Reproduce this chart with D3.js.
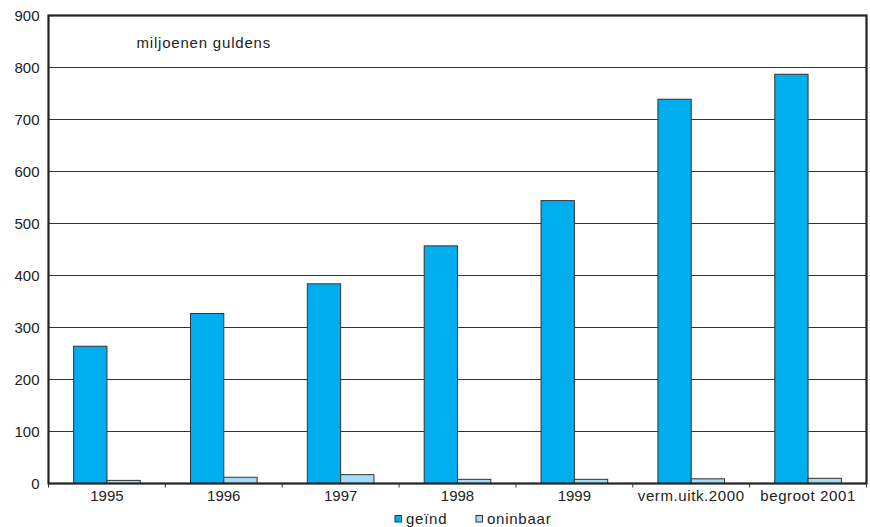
<!DOCTYPE html>
<html lang="nl">
<head>
<meta charset="UTF-8">
<title>geïnd en oninbaar</title>
<script src="https://d3js.org/d3.v7.min.js"></script>
<style>
  body { margin: 0; background: #fff; }
  text { font-family: "Liberation Sans", Arial, sans-serif; fill: #222; }
</style>
</head>
<body>
<div id="chart"></div>
<script>
// data (miljoenen guldens)
var categories = ["1995", "1996", "1997", "1998", "1999", "verm.uitk.2000", "begroot 2001"];
var geind = [264, 327, 384, 457, 544, 739, 787];
var oninbaar = [6, 12, 17, 8, 8, 9, 10];
var seriesNames = ["geïnd", "oninbaar"];
var seriesColors = ["#00adef", "#a3dcf6"];
var yTicks = [0, 100, 200, 300, 400, 500, 600, 700, 800, 900];

var W = 870, H = 527;
var margin = { top: 15.5, right: 3.5, bottom: 43.5, left: 48.5 },
    width = W - margin.left - margin.right,
    height = H - margin.top - margin.bottom;

// words are set a bit wider than the digits in the original
function spacing(d) { return /[a-z]/.test(d) ? "0.6px" : "0px"; }

var svg = d3.select("#chart").append("svg")
    .attr("width", W).attr("height", H);
var g = svg.append("g")
    .attr("transform", "translate(" + margin.left + "," + margin.top + ")");

var x = d3.scaleBand()
    .domain(categories)
    .range([0, width])
    .paddingInner(0.43)
    .paddingOuter(0.215);
var y = d3.scaleLinear().domain([0, 900]).range([height, 0]);

// gridlines
g.selectAll(".grid").data(yTicks).enter().append("line")
    .attr("x1", 0).attr("x2", width)
    .attr("y1", function (d) { return y(d); })
    .attr("y2", function (d) { return y(d); })
    .attr("stroke", "#333").attr("stroke-width", 1.2);

// y labels
g.selectAll(".ylab").data(yTicks).enter().append("text")
    .attr("x", -9).attr("y", function (d) { return y(d); })
    .attr("dy", "0.35em")
    .attr("text-anchor", "end")
    .style("font-size", "15px")
    .text(function (d) { return d; });

// bars
var rows = categories.map(function (c, i) { return { cat: c, vals: [geind[i], oninbaar[i]] }; });
var bw = x.bandwidth() / 2;
var grp = g.selectAll(".cat").data(rows).enter().append("g")
    .attr("transform", function (d) { return "translate(" + x(d.cat) + ",0)"; });
grp.selectAll("rect").data(function (d) { return d.vals; }).enter().append("rect")
    .attr("x", function (d, j) { return j * bw; })
    .attr("y", function (d) { return y(d); })
    .attr("width", bw)
    .attr("height", function (d) { return height - y(d); })
    .attr("fill", function (d, j) { return seriesColors[j]; })
    .attr("stroke", "#333").attr("stroke-width", 1);

// frame
g.append("rect")
    .attr("x", 0).attr("y", 0).attr("width", width).attr("height", height)
    .attr("fill", "none").attr("stroke", "#222").attr("stroke-width", 2.2);

// x ticks at band edges
var step = x.step();
var edges = d3.range(categories.length + 1).map(function (k) { return k * step; });
g.selectAll(".xtick").data(edges).enter().append("line")
    .attr("x1", function (d) { return d; }).attr("x2", function (d) { return d; })
    .attr("y1", height).attr("y2", height + 4)
    .attr("stroke", "#333").attr("stroke-width", 1);

g.selectAll(".xlab").data(categories).enter().append("text")
    .attr("x", function (d) { return x(d) - step * 0.215 + step / 2; })
    .attr("y", height + 17.5)
    .attr("text-anchor", "middle")
    .style("font-size", "15px")
    .style("letter-spacing", spacing)
    .text(function (d) { return d; });

// unit label
g.append("text")
    .attr("x", 88).attr("y", 32)
    .style("font-size", "15px")
    .style("letter-spacing", "0.8px")
    .text("miljoenen guldens");

// legend
var legend = svg.append("g").attr("transform", "translate(395," + (H - 8) + ")");
var li = legend.selectAll("g").data(seriesNames).enter().append("g")
    .attr("transform", function (d, i) { return "translate(" + (i * 81) + ",0)"; });
li.append("rect")
    .attr("x", 0).attr("y", -3.5).attr("width", 6.5).attr("height", 6.5)
    .attr("fill", function (d, i) { return seriesColors[i]; })
    .attr("stroke", "#333").attr("stroke-width", 1);
li.append("text")
    .attr("x", 11).attr("y", 0).attr("dy", "0.35em")
    .style("font-size", "15px")
    .style("letter-spacing", "0.75px")
    .text(function (d) { return d; });
</script>
</body>
</html>
